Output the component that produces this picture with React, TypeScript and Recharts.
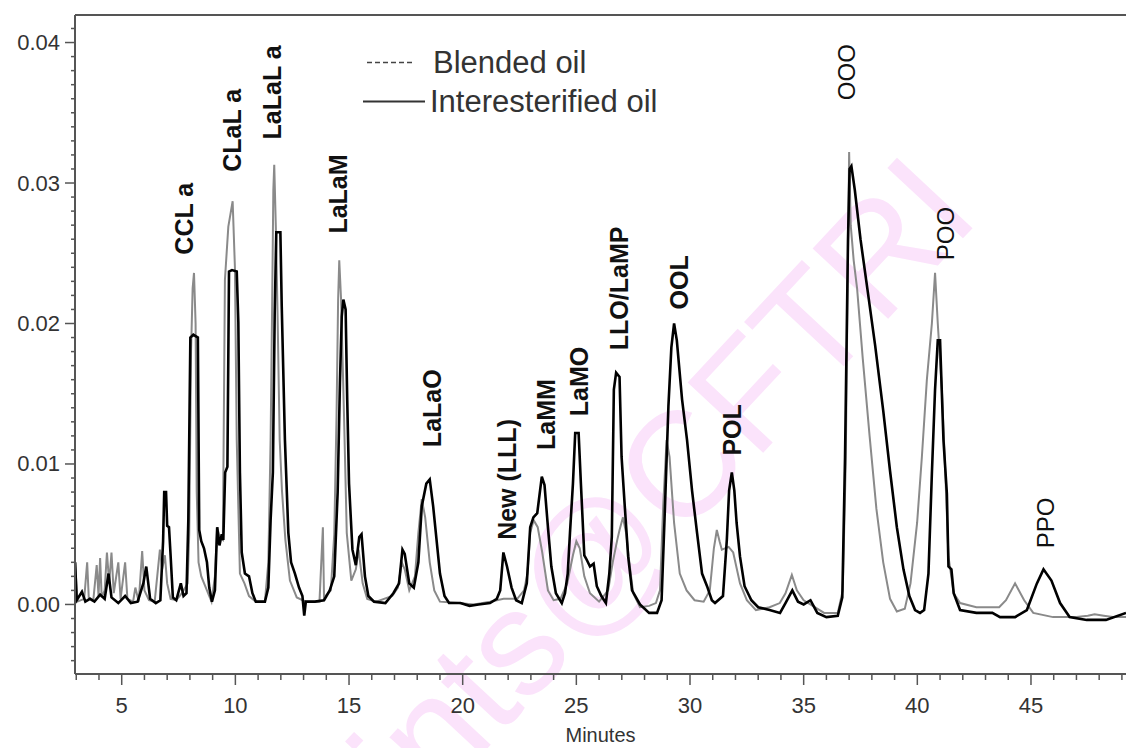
import React from "react";
import {
  LineChart,
  Line,
  XAxis,
  YAxis,
  ReferenceLine,
  ReferenceDot,
  Legend,
} from "recharts";

const FONT = "'Liberation Sans', Arial, sans-serif";

// axis ranges (minutes / absorbance)
const X_MIN = 2.945;
const X_MAX = 49.18;
const Y_MIN = -0.00495;
const Y_MAX = 0.04196;

const xLabelTicks = [5, 10, 15, 20, 25, 30, 35, 40, 45];
const yLabelTicks = [0, 0.01, 0.02, 0.03, 0.04];
const yLabels = ["0.00", "0.01", "0.02", "0.03", "0.04"];

// minor ticks every minute / every 0.001
const xTicks = Array.from({ length: 47 }, (_, i) => i + 3);
const yTicks = Array.from({ length: 46 }, (_, i) => +(-0.004 + i * 0.001).toFixed(3));

// [minutes, absorbance]
const blendedOil: [number, number][] = [
  [2.95, 0.003], [3.05, 0.0002], [3.35, 0.0004], [3.48, 0.003], [3.55, 0.0005],
  [3.75, 0.0003], [3.9, 0.0028], [3.98, 0.0006], [4.05, 0.0033], [4.12, 0.0005],
  [4.25, 0.001], [4.35, 0.0037], [4.45, 0.0015], [4.55, 0.0037], [4.65, 0.0008],
  [4.85, 0.003], [4.95, 0.0004], [5.15, 0.003], [5.25, 0.0004], [5.5, 0.0002],
  [5.6, 0.0012], [5.75, 0.0002], [5.9, 0.0038], [6.0, 0.001], [6.2, 0.0003],
  [6.45, 0.0002], [6.68, 0.0039], [6.78, 0.0025], [6.9, 0.0035], [7.0, 0.0015],
  [7.15, 0.0004], [7.4, 0.0003], [7.65, 0.0008], [7.9, 0.0015], [7.97, 0.005],
  [8.05, 0.018], [8.12, 0.0225], [8.18, 0.0236], [8.25, 0.02], [8.3, 0.008],
  [8.38, 0.003], [8.5, 0.002], [8.7, 0.0012], [8.95, 0.0002], [9.1, 0.002],
  [9.2, 0.0055], [9.3, 0.0048], [9.45, 0.0046], [9.54, 0.0231], [9.69, 0.0269],
  [9.88, 0.0287], [9.98, 0.024], [10.06, 0.0117], [10.2, 0.0022], [10.4, 0.0015],
  [10.6, 0.0006], [10.9, 0.0002], [11.3, 0.0002], [11.45, 0.003], [11.55, 0.0117],
  [11.62, 0.0217], [11.67, 0.0295], [11.71, 0.0313], [11.78, 0.0269], [11.85, 0.0212],
  [11.95, 0.0117], [12.05, 0.0081], [12.2, 0.0046], [12.4, 0.0017], [12.7, 0.0005],
  [13.1, 0.0002], [13.7, 0.0002], [13.85, 0.0055], [13.9, 0.0005], [14.2, 0.001],
  [14.35, 0.005], [14.45, 0.0134], [14.52, 0.0217], [14.57, 0.0245], [14.65, 0.0217],
  [14.78, 0.0134], [14.9, 0.0051], [15.1, 0.0017], [15.3, 0.0025], [15.42, 0.0039],
  [15.6, 0.0015], [15.8, 0.0004], [16.2, 0.0002], [16.9, 0.0006], [17.15, 0.0012],
  [17.32, 0.003], [17.45, 0.0025], [17.65, 0.001], [17.9, 0.002], [18.05, 0.0051],
  [18.2, 0.0075], [18.35, 0.0062], [18.55, 0.003], [18.75, 0.001], [19.0, 0.0002],
  [19.8, 0.0001], [20.5, 0.0], [21.2, 0.0002], [21.8, 0.0004], [22.4, 0.0004],
  [22.7, 0.001], [22.85, 0.0022], [22.97, 0.0051], [23.12, 0.006], [23.3, 0.0055],
  [23.5, 0.0037], [23.75, 0.001], [24.0, 0.0003], [24.3, 0.0004], [24.6, 0.0015],
  [24.85, 0.0035], [25.0, 0.0045], [25.15, 0.004], [25.35, 0.002], [25.6, 0.0008],
  [26.0, 0.0002], [26.4, 0.001], [26.6, 0.003], [26.8, 0.0046], [26.9, 0.0053],
  [27.05, 0.0062], [27.2, 0.005], [27.3, 0.0034], [27.5, 0.0008], [27.8, -0.0002],
  [28.2, -0.0001], [28.5, 0.0001], [28.68, 0.001], [28.82, 0.007], [28.97, 0.0117],
  [29.1, 0.0105], [29.3, 0.0058], [29.55, 0.0022], [29.85, 0.001], [30.2, 0.0003],
  [30.6, 0.0002], [30.87, 0.001], [31.05, 0.004], [31.18, 0.0053], [31.3, 0.0045],
  [31.4, 0.0039], [31.7, 0.0041], [31.9, 0.0037], [32.2, 0.0015], [32.5, 0.0003],
  [32.9, -0.0004], [33.5, -0.0002], [33.95, 0.0001], [34.2, 0.0008], [34.48, 0.0021],
  [34.7, 0.001], [35.0, 0.0003], [35.4, -0.0001], [35.9, -0.0006], [36.5, -0.0006],
  [36.72, 0.001], [36.85, 0.01], [36.95, 0.025], [37.0, 0.0322], [37.07, 0.027],
  [37.2, 0.0245], [37.35, 0.0225], [37.6, 0.0175], [37.9, 0.012], [38.2, 0.0068],
  [38.5, 0.003], [38.8, 0.0004], [39.1, -0.0005], [39.45, -0.0003],
  [39.7, 0.0015], [39.99, 0.0058], [40.2, 0.0105], [40.42, 0.016], [40.64, 0.02],
  [40.78, 0.0236], [40.9, 0.02], [41.08, 0.0153], [41.23, 0.0094], [41.37, 0.0034],
  [41.6, 0.0008], [41.88, 0.0001], [42.6, -0.0002], [43.6, -0.0002], [43.9, 0.0003],
  [44.3, 0.0015], [44.7, 0.0003], [45.1, -0.0006], [45.97, -0.0009], [47.0, -0.0009],
  [47.5, -0.0008], [47.8, -0.0007], [48.2, -0.0008], [48.6, -0.0009], [49.18, -0.0009],
];

const interesterifiedOil: [number, number][] = [
  [2.95, 0.003], [3.02, 0.0003], [3.25, 0.0009], [3.4, 0.0002], [3.6, 0.0004],
  [3.8, 0.0002], [4.05, 0.0007], [4.25, 0.0004], [4.42, 0.0022], [4.55, 0.0005],
  [4.85, 0.0001], [5.15, 0.0006], [5.4, 0.0001], [5.7, 0.0002], [5.95, 0.0015],
  [6.08, 0.0027], [6.25, 0.0004], [6.5, 0.0001], [6.7, 0.0003], [6.82, 0.0045],
  [6.87, 0.008], [6.95, 0.008], [7.0, 0.0056], [7.08, 0.0055], [7.15, 0.0035],
  [7.25, 0.0005], [7.4, 0.0003], [7.6, 0.0015], [7.72, 0.0006], [7.85, 0.0008],
  [7.93, 0.006], [8.02, 0.019], [8.15, 0.0192], [8.35, 0.019], [8.41, 0.0053],
  [8.5, 0.0045], [8.62, 0.004], [8.75, 0.003], [8.85, 0.0012], [8.97, 0.0002],
  [9.1, 0.001], [9.2, 0.0055], [9.3, 0.0042], [9.4, 0.005], [9.47, 0.0046],
  [9.55, 0.0094], [9.65, 0.0098], [9.72, 0.0237], [9.85, 0.0238], [10.06, 0.0237],
  [10.13, 0.0201], [10.2, 0.0094], [10.28, 0.0037], [10.42, 0.0022], [10.6, 0.002],
  [10.75, 0.0008], [10.9, 0.0002], [11.3, 0.0002], [11.45, 0.0012], [11.55, 0.006],
  [11.65, 0.0094], [11.73, 0.0207], [11.8, 0.0265], [11.98, 0.0265], [12.04, 0.0212],
  [12.18, 0.0117], [12.33, 0.0051], [12.45, 0.003], [12.62, 0.0022], [12.8, 0.0012],
  [12.95, 0.0006], [13.03, -0.0008], [13.1, 0.0002], [13.5, 0.0002], [13.9, 0.0003],
  [14.15, 0.001], [14.35, 0.002], [14.5, 0.008], [14.6, 0.0158], [14.68, 0.0205],
  [14.75, 0.0217], [14.85, 0.021], [14.92, 0.0146], [15.0, 0.0086], [15.15, 0.0039],
  [15.3, 0.0028], [15.45, 0.0048], [15.55, 0.005], [15.7, 0.002], [15.85, 0.0006],
  [16.1, 0.0002], [16.6, 0.0001], [16.95, 0.0008], [17.2, 0.0015], [17.35, 0.0039],
  [17.45, 0.0036], [17.65, 0.0015], [17.85, 0.0012], [18.05, 0.003], [18.2, 0.007],
  [18.4, 0.0086], [18.55, 0.0089], [18.7, 0.007], [18.85, 0.0046], [19.0, 0.0022],
  [19.2, 0.0006], [19.4, 0.0001], [19.9, 0.0001], [20.3, -0.0001], [20.7, 0.0],
  [21.2, 0.0001], [21.5, 0.0004], [21.65, 0.001], [21.79, 0.0037], [21.95, 0.0027],
  [22.15, 0.0012], [22.35, 0.0003], [22.6, 0.0001], [22.82, 0.0015], [22.97, 0.0055],
  [23.11, 0.0062], [23.28, 0.0065], [23.48, 0.0091], [23.6, 0.0085], [23.75, 0.0055],
  [23.9, 0.0027], [24.1, 0.0008], [24.36, 0.0001], [24.5, 0.0008], [24.62, 0.0022],
  [24.72, 0.0051], [24.85, 0.0086], [24.95, 0.0122], [25.1, 0.0122], [25.2, 0.0086],
  [25.35, 0.0035], [25.45, 0.0032], [25.6, 0.0027], [25.76, 0.0029], [25.9, 0.0013],
  [26.1, 0.0006], [26.3, 0.0001], [26.45, 0.0022], [26.56, 0.0048], [26.65, 0.0153],
  [26.75, 0.0165], [26.9, 0.0162], [26.99, 0.0105], [27.13, 0.007], [27.28, 0.0034],
  [27.45, 0.001], [27.8, 0.0], [28.2, -0.0006], [28.55, -0.0006], [28.75, 0.0003],
  [28.9, 0.007], [29.05, 0.0141], [29.18, 0.0183], [29.3, 0.02], [29.42, 0.0188],
  [29.65, 0.0146], [29.87, 0.0117], [30.09, 0.0081], [30.31, 0.0051], [30.53, 0.0022],
  [30.75, 0.0013], [30.96, 0.0003], [31.1, 0.0001], [31.45, 0.0006], [31.62, 0.0046],
  [31.72, 0.0081], [31.84, 0.0094], [31.95, 0.0081], [32.05, 0.0058], [32.2, 0.0034],
  [32.4, 0.0013], [32.7, 0.0003], [33.0, -0.0002], [33.5, -0.0004], [33.96, -0.0006],
  [34.2, 0.0001], [34.5, 0.001], [34.75, 0.0002], [35.0, 0.0], [35.3, 0.0003],
  [35.6, -0.0006], [36.0, -0.0009], [36.5, -0.0008], [36.7, 0.0005], [36.82, 0.0105],
  [36.95, 0.0259], [37.02, 0.031], [37.1, 0.0312], [37.25, 0.0295], [37.5, 0.026],
  [37.8, 0.0225], [38.14, 0.0185], [38.5, 0.0138], [38.8, 0.0095], [39.1, 0.0055],
  [39.39, 0.0025], [39.65, 0.0006], [39.9, -0.0004], [40.12, -0.0006], [40.3, -0.0004],
  [40.49, 0.0022], [40.64, 0.0093], [40.78, 0.0153], [40.9, 0.0188], [41.0, 0.0188],
  [41.08, 0.015], [41.15, 0.0117], [41.3, 0.0079], [41.37, 0.0027], [41.5, 0.0025],
  [41.6, 0.0008], [41.88, -0.0004], [42.6, -0.0006], [43.3, -0.0006], [43.64, -0.0009],
  [44.3, -0.0009], [44.82, -0.0004], [45.26, 0.0015], [45.55, 0.0025], [45.9, 0.0017],
  [46.28, 0.0001], [46.7, -0.0009], [47.45, -0.0011], [48.3, -0.0011], [49.18, -0.0006],
];

// peak names with the retention time / height where the rotated label starts
const peakNames = [
  "CCL a", "CLaL a", "LaLaL a", "LaLaM", "LaLaO", "New (LLL)", "LaMM",
  "LaMO", "LLO/LaMP", "OOL", "POL", "OOO", "POO", "PPO",
];
const peakTimes = [7.72, 9.84, 11.63, 14.52, 18.64, 21.93, 23.67, 25.12, 26.88, 29.52, 31.84, 36.87, 41.23, 45.66];
const peakHeights = [0.0249, 0.0308, 0.0331, 0.0264, 0.0112, 0.0046, 0.011, 0.0134, 0.0181, 0.021, 0.0106, 0.0359, 0.0245, 0.004];
const plainPeaks = ["OOO", "POO", "PPO"];

const toRows = (pts: [number, number][]) => pts.map(([t, v]) => ({ t, v }));

const XTick = (props: any) => {
  const { x, y, payload } = props;
  const major = xLabelTicks.includes(payload.value);
  return (
    <g>
      <line x1={x} x2={x} y1={y} y2={y + (major ? 11 : 6)} stroke="#555" strokeWidth={1.5} />
      {major && (
        <text x={x} y={y + 31} textAnchor="middle" dominantBaseline="central" fontSize={22} fill="#333" fontFamily={FONT}>
          {payload.value}
        </text>
      )}
    </g>
  );
};

const YTick = (props: any) => {
  const { x, y, payload } = props;
  const idx = yLabelTicks.findIndex((v) => Math.abs(v - payload.value) < 1e-7);
  const major = idx >= 0;
  return (
    <g>
      <line x1={x - (major ? 10 : 4)} x2={x} y1={y} y2={y} stroke="#555" strokeWidth={1.5} />
      {major && (
        <text x={x - 15} y={y} textAnchor="end" dominantBaseline="central" fontSize={22} fill="#333" fontFamily={FONT}>
          {yLabels[idx]}
        </text>
      )}
    </g>
  );
};

const peakShape = (name: string) => (p: any) => (
  <text
    x={p.cx}
    y={p.cy}
    transform={`rotate(-90 ${p.cx} ${p.cy})`}
    textAnchor="start"
    dominantBaseline="central"
    fontSize={plainPeaks.includes(name) ? 24 : 25}
    fontWeight={plainPeaks.includes(name) ? 400 : 700}
    fill="#111"
    fontFamily={FONT}
  >
    {name}
  </text>
);

const renderLegend = () => (
  <div style={{ fontFamily: FONT, fontSize: 31, color: "#333", lineHeight: "39px" }}>
    <div style={{ display: "flex", alignItems: "center" }}>
      <svg width={70} height={39}>
        <line x1={7} x2={55} y1={19.5} y2={19.5} stroke="#444" strokeWidth={1.5} strokeDasharray="5 3" />
      </svg>
      <span style={{ marginLeft: 3 }}>Blended oil</span>
    </div>
    <div style={{ display: "flex", alignItems: "center" }}>
      <svg width={70} height={39}>
        <line x1={3} x2={65} y1={19.5} y2={19.5} stroke="#333" strokeWidth={2} />
      </svg>
      <span>Interesterified oil</span>
    </div>
  </div>
);

export default function App() {
  return (
    <div style={{ position: "fixed", left: 0, top: 0, width: 1126, height: 748, background: "#fff", overflow: "hidden" }}>
      <svg width={1126} height={748} style={{ position: "absolute", left: 0, top: 0 }}>
        <text
          x={982}
          y={218}
          transform="rotate(-47 982 218)"
          textAnchor="end"
          fontSize={150}
          fill="#fbe3fb"
          fontFamily={FONT}
        >
          ints@CFTRI
        </text>
      </svg>
      <div style={{ position: "absolute", left: 0, top: 0 }}>
        <LineChart width={1126} height={748} margin={{ top: 15, right: 0, bottom: 0, left: 0 }}>
          <XAxis
            type="number"
            dataKey="t"
            domain={[X_MIN, X_MAX]}
            allowDataOverflow
            ticks={xTicks}
            interval={0}
            height={74}
            tickSize={0}
            tickMargin={0}
            tickLine={false}
            tick={<XTick />}
            axisLine={{ stroke: "#555", strokeWidth: 2 }}
            label={{ value: "Minutes", position: "insideBottom", offset: 6, fontSize: 20, fill: "#333", fontFamily: FONT }}
          />
          <YAxis
            type="number"
            domain={[Y_MIN, Y_MAX]}
            allowDataOverflow
            ticks={yTicks}
            interval={0}
            width={75}
            tickSize={0}
            tickMargin={0}
            tickLine={false}
            tick={<YTick />}
            axisLine={{ stroke: "#555", strokeWidth: 2 }}
          />
          <ReferenceLine y={Y_MAX} stroke="#555" strokeWidth={2} />
          <Line
            data={toRows(blendedOil)}
            dataKey="v"
            name="Blended oil"
            type="linear"
            stroke="#8a8a8a"
            strokeWidth={2}
            dot={false}
            isAnimationActive={false}
          />
          <Line
            data={toRows(interesterifiedOil)}
            dataKey="v"
            name="Interesterified oil"
            type="linear"
            stroke="#000"
            strokeWidth={2.6}
            dot={false}
            isAnimationActive={false}
          />
          {peakNames.map((name, i) => (
            <ReferenceDot key={name} x={peakTimes[i]} y={peakHeights[i]} r={1} shape={peakShape(name)} />
          ))}
          <Legend
            content={renderLegend}
            layout="horizontal"
            verticalAlign="middle"
            align="center"
            wrapperStyle={{ left: 360, top: 43, width: 340 }}
          />
        </LineChart>
      </div>
    </div>
  );
}
